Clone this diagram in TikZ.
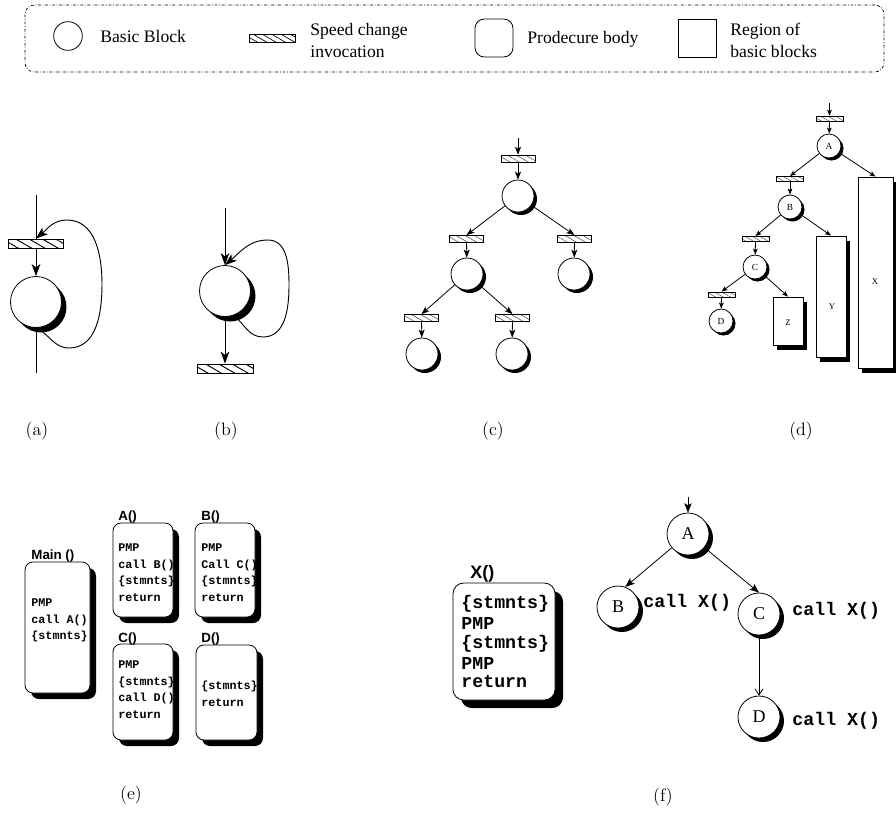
\documentclass[tikz,border=0pt]{standalone}
\usepackage{fontspec}
\usetikzlibrary{arrows.meta,shadows,patterns.meta}
\newfontfamily\legfont{Liberation Serif}
\newfontfamily\codefont{Liberation Mono}
\newfontfamily\headfont{Liberation Sans}
\begin{document}
\begin{tikzpicture}[x=0.75pt,y=-0.75pt,line width=0.6pt,
  sz/.style 2 args={minimum width=#1*0.75pt,minimum height=#2*0.75pt},
  shad/.style={drop shadow={shadow xshift=#1*0.75pt,shadow yshift=-#1*0.75pt,opacity=1,fill=black}},
  blk/.style 2 args={circle,draw,fill=white,inner sep=0pt,minimum size=#1*0.75pt,shad=#2},
  hatch/.style n args={4}{draw,inner sep=0pt,sz={#1}{#2},pattern={Lines[angle=-30,distance=#3,line width=#4]}},
  legtext/.style={font=\legfont\fontsize{13.2}{16}\selectfont,anchor=base west,inner sep=0pt},
  capt/.style={font=\fontsize{13.5}{16}\selectfont,inner sep=0pt},
  arA/.style={-{Stealth[length=9pt,width=6.5pt,inset=2.5pt]},line width=0.7pt},
  arC/.style={-{Stealth[length=6pt,width=4.5pt,inset=1.5pt]}},
  arD/.style={-{Stealth[length=4.5pt,width=3.5pt,inset=1pt]}},
  arF/.style={-{Stealth[length=7pt,width=5.5pt,inset=1.5pt]}},
  arO/.style={-{Straight Barb[length=4.5pt,width=6pt]}},
  regD/.style={draw,fill=white,inner sep=0pt,drop shadow={shadow xshift=3pt,shadow yshift=-3.75pt,opacity=1,fill=black}},
  dlab/.style={font=\legfont\fontsize{6.5}{8}\selectfont,inner sep=0pt},
  procE/.style={draw,fill=white,rounded corners=6pt,inner sep=0pt,shad=6},
  procF/.style={draw,fill=white,rounded corners=8pt,inner sep=0pt,shad=8},
  codeE/.style={font=\codefont\bfseries\fontsize{8.8}{10}\selectfont,anchor=base west,inner sep=0pt},
  headE/.style={font=\headfont\bfseries\fontsize{10}{12}\selectfont,anchor=base west,inner sep=0pt},
  codeF/.style={font=\codefont\bfseries\fontsize{13.7}{15}\selectfont,anchor=base west,inner sep=0pt},
  headF/.style={font=\headfont\bfseries\fontsize{13.5}{15}\selectfont,anchor=base west,inner sep=0pt},
]
\useasboundingbox (0,0) rectangle (896,815);
\fill[white] (0,0) rectangle (896,815);

% ---------------- legend ----------------
\node[draw,line width=0.5pt,rounded corners=7pt,dash pattern=on 2.2pt off 1.3pt on 0.5pt off 1.3pt,inner sep=0pt,sz={859}{67}] (legend) at (454.5,38.5) {};
\node[circle,draw,inner sep=0pt,minimum size=21.5pt] (legC) at (68,36) {};
\node[legtext] (legCt) at (100,42) {Basic Block};
\node[hatch={46}{8}{3.5pt}{0.5pt}] (legS) at (272,38) {};
\node[legtext] (legSt1) at (310,35) {Speed change};
\node[legtext] (legSt2) at (310,57) {invocation};
\node[draw,rounded corners=7pt,inner sep=0pt,sz={38}{38}] (legP) at (494,38) {};
\node[legtext] (legPt) at (527,43) {Prodecure body};
\node[draw,inner sep=0pt,sz={38}{38}] (legR) at (697,38) {};
\node[legtext] (legRt1) at (730,35) {Region of};
\node[legtext] (legRt2) at (730,57) {basic blocks};

% ---------------- (a) ----------------
\coordinate (aTop) at (36,195);
\coordinate (aBot) at (36,373);
\node[hatch={55}{9}{5pt}{0.7pt}] (aS) at (36,243.5) {};
\node[blk={51}{5}] (aC) at (36,302) {};
\draw (aTop) -- (aS);
\draw[arA] (aS) -- (aC);
\draw (aC) -- (aBot);
\draw[arA] (aC.south) to[out=-25,in=180] (69,348) to[out=0,in=-90] (102,284) to[out=90,in=0] (67,220) to[out=180,in=40] (aS.north);
\node[capt] (capA) at (37,431) {(a)};

% ---------------- (b) ----------------
\coordinate (bTop) at (225,208);
\node[blk={51}{5}] (bC) at (225,291) {};
\node[hatch={56}{9}{5pt}{0.7pt}] (bS) at (225,368.5) {};
\draw[arA] (bTop) -- (bC);
\draw[arA] (bC) -- (bS);
\draw[arA] (bC.290) to[out=-40,in=180] (263,337) to[out=0,in=-90] (289,285) to[out=90,in=0] (268,240) to[out=180,in=40] (bC.north);
\node[capt] (capB) at (226,431) {(b)};

% ---------------- (c) ----------------
\begin{scope}[every node/.append style={pattern color=black!70}]
\coordinate (cTop) at (518,138);
\node[hatch={34}{7}{3.4pt}{0.4pt}] (cS1) at (518,158.5) {};
\node[blk={32}{3}] (c1) at (518,196) {};
\node[hatch={34}{7}{3.4pt}{0.4pt}] (cS2) at (466.5,239) {};
\node[hatch={34}{7}{3.4pt}{0.4pt}] (cS3) at (574.5,239) {};
\node[blk={32}{3}] (c2) at (467,274) {};
\node[blk={32}{3}] (c3) at (574,274) {};
\node[hatch={34}{7}{3.4pt}{0.4pt}] (cS4) at (421.5,318) {};
\node[hatch={34}{7}{3.4pt}{0.4pt}] (cS5) at (512.5,318) {};
\node[blk={32}{3}] (c4) at (422,354) {};
\node[blk={32}{3}] (c5) at (512,354) {};
\end{scope}
\draw[arC] (cTop) -- (cS1);
\draw[arC] (cS1) -- (c1);
\draw[arC] (c1) -- (cS2.north);
\draw[arC] (c1) -- (cS3.north);
\draw[arC] (cS2) -- (c2);
\draw[arC] (cS3) -- (c3);
\draw[arC] (c2) -- (cS4.north);
\draw[arC] (c2) -- (cS5.north);
\draw[arC] (cS4) -- (c4);
\draw[arC] (cS5) -- (c5);
\node[capt] (capC) at (493,431) {(c)};

% ---------------- (d) ----------------
\begin{scope}[every node/.append style={pattern color=black!70}]
\coordinate (dTop) at (829.5,103);
\node[hatch={27}{5}{2.8pt}{0.35pt}] (dSA) at (829.5,118.5) {};
\node[blk={24}{2.5},font=\legfont\fontsize{7}{8}\selectfont] (dA) at (829,146) {A};
\node[hatch={27}{5}{2.8pt}{0.35pt}] (dSB) at (790,179) {};
\node[blk={24}{2.5},font=\legfont\fontsize{7}{8}\selectfont] (dB) at (790,207) {B};
\node[regD,sz={35}{191}] (dX) at (875.5,272.5) {};
\node[hatch={27}{5}{2.8pt}{0.35pt}] (dSC) at (755.5,239) {};
\node[blk={24}{2.5},font=\legfont\fontsize{7}{8}\selectfont] (dC) at (755,267) {C};
\node[regD,sz={30}{121}] (dY) at (831,296.5) {};
\node[hatch={27}{5}{2.8pt}{0.35pt}] (dSD) at (721.5,294.5) {};
\node[blk={24}{2.5},font=\legfont\fontsize{7}{8}\selectfont] (dD) at (721,321) {D};
\node[regD,sz={30}{48}] (dZ) at (788,321) {};
\end{scope}
\node[dlab] (dXl) at (875,282) {X};
\node[dlab] (dYl) at (832,307) {Y};
\node[dlab] (dZl) at (788,323) {Z};
\draw[arD] (dTop) -- (dSA);
\draw[arD] (dSA) -- (dA);
\draw[arD] (dA) -- (dSB.north);
\draw[arD] (dA) -- (dX.north);
\draw[arD] (dSB) -- (dB);
\draw[arD] (dB) -- (dSC.north);
\draw[arD] (dB) -- (dY.north);
\draw[arD] (dSC) -- (dC);
\draw[arD] (dC) -- (dSD.north);
\draw[arD] (dC) -- (dZ.north);
\draw[arD] (dSD) -- (dD);
\node[capt] (capD) at (801,431) {(d)};

% ---------------- (e) ----------------
\node[procE,sz={65}{131}] (eMain) at (57.5,627.5) {};
\node[procE,sz={60}{94}] (eA) at (143,570) {};
\node[procE,sz={60}{94}] (eB) at (225,570) {};
\node[procE,sz={60}{96}] (eC) at (143,692) {};
\node[procE,sz={61}{95}] (eD) at (226.5,692.5) {};
\node[headE] (eMainH) at (31,559) {Main ()};
\node[headE] (eAH) at (118,520) {A()};
\node[headE] (eBH) at (201,520) {B()};
\node[headE] (eCH) at (118,642) {C()};
\node[headE] (eDH) at (201,642) {D()};
\foreach \t [count=\i] in {PMP,call A(),\{stmnts\}}
  \node[codeE] (eMain\i) at (31,{606.5+(\i-1)*16.5}) {\t};
\foreach \t [count=\i] in {PMP,call B(),\{stmnts\},return}
  \node[codeE] (eA\i) at (118,{551.5+(\i-1)*16.7}) {\t};
\foreach \t [count=\i] in {PMP,Call C(),\{stmnts\},return}
  \node[codeE] (eB\i) at (201,{551.5+(\i-1)*16.7}) {\t};
\foreach \t [count=\i] in {PMP,\{stmnts\},call D(),return}
  \node[codeE] (eC\i) at (118,{668.5+(\i-1)*16.7}) {\t};
\foreach \t [count=\i] in {\{stmnts\},return}
  \node[codeE] (eD\i) at (201,{689.5+(\i-1)*16.7}) {\t};
\node[capt] (capE) at (131,795) {(e)};

% ---------------- (f) ----------------
\node[procF,sz={102}{117}] (fX) at (504,641.5) {};
\node[headF] (fXH) at (470,578) {X()};
\node[codeF] (fX1) at (461,608) {\{stmnts\}};
\node[codeF] (fX2) at (461,629) {PMP};
\node[codeF] (fX3) at (461,648) {\{stmnts\}};
\node[codeF] (fX4) at (461,669) {PMP};
\node[codeF] (fX5) at (461,687) {return};

\coordinate (fTop) at (688,497);
\node[blk={42}{4},font=\legfont\fontsize{13.5}{15}\selectfont] (fA) at (688,534) {A};
\node[blk={42}{4},font=\legfont\fontsize{13.5}{15}\selectfont] (fB) at (618,607) {B};
\node[blk={42}{4},font=\legfont\fontsize{13.5}{15}\selectfont] (fC) at (759,614) {C};
\node[blk={42}{4},font=\legfont\fontsize{13.5}{15}\selectfont] (fD) at (759,717) {D};
\draw[arF] (fTop) -- (fA);
\draw[arF] (fA) -- (fB.70);
\draw[arF] (fA) -- (fC.north);
\draw[arO] (fC) -- (fD);
\node[codeF] (fBl) at (643,607) {call X()};
\node[codeF] (fCl) at (792,615) {call X()};
\node[codeF] (fDl) at (792,725) {call X()};
\node[capt] (capF) at (663,797) {(f)};
\end{tikzpicture}
\end{document}
